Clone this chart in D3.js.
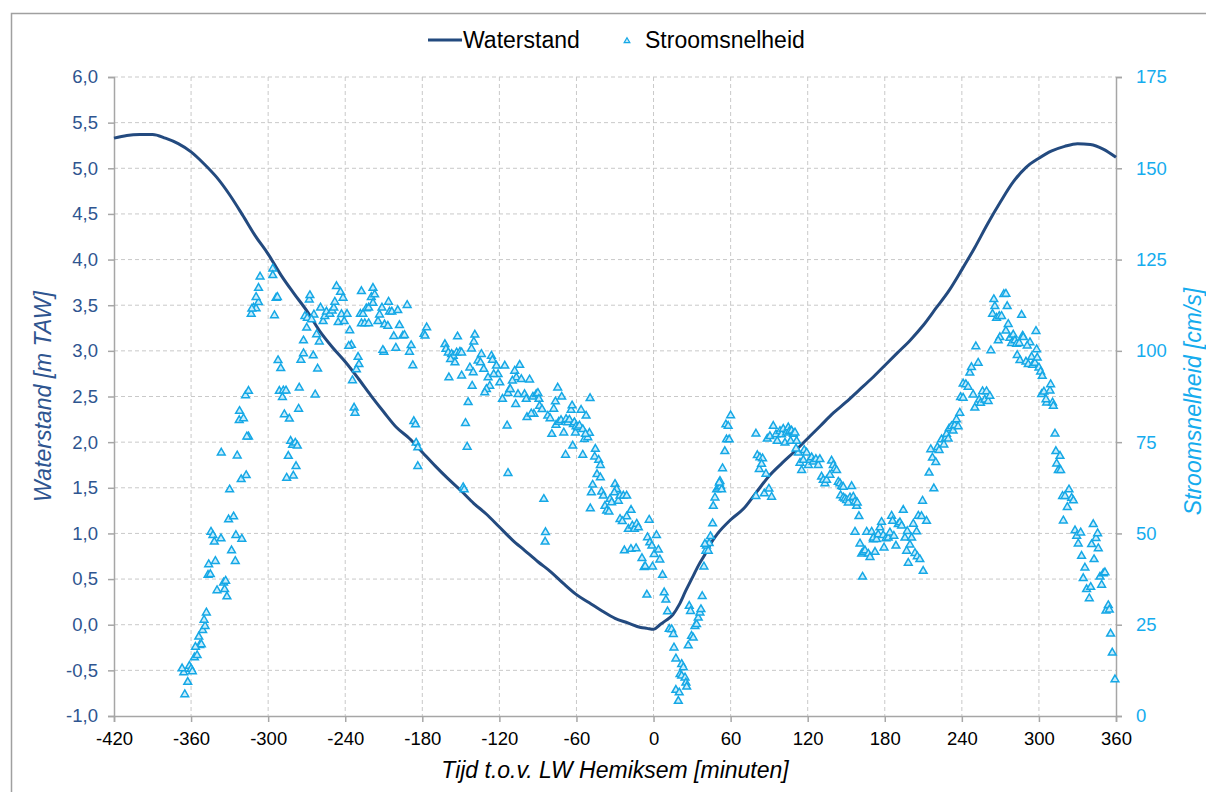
<!DOCTYPE html>
<html><head><meta charset="utf-8">
<script src="https://cdn.jsdelivr.net/npm/d3@7"></script>
<style>body{margin:0;background:#fff;overflow:hidden}svg{display:block;font-family:"Liberation Sans",Arial,sans-serif}</style>
</head><body><svg id="c" width="1206" height="792"></svg>
<script>
const xTicks = [-420,-360,-300,-240,-180,-120,-60,0,60,120,180,240,300,360];
const leftTicks = [-1,-0.5,0,0.5,1,1.5,2,2.5,3,3.5,4,4.5,5,5.5,6];
const rightTicks = [0,25,50,75,100,125,150,175];
const waterTime = [-420,-410,-400,-390,-380,-370,-360,-350,-340,-330,-320,-310,-300,-290,-280,-270,-260,-250,-240,-230,-220,-210,-200,-190,-180,-170,-160,-150,-140,-130,-120,-110,-100,-90,-80,-70,-60,-50,-40,-30,-20,-10,-5,0,5,10,15,20,25,30,35,40,45,50,60,70,80,90,100,110,120,130,140,150,160,170,180,190,200,210,220,230,240,250,260,270,280,290,300,310,320,330,340,350,360];
const waterLevel = [5.33,5.36,5.37,5.37,5.33,5.27,5.18,5.05,4.90,4.71,4.49,4.26,4.06,3.83,3.63,3.44,3.22,3.04,2.88,2.70,2.51,2.33,2.16,2.04,1.89,1.74,1.60,1.47,1.33,1.21,1.07,0.93,0.81,0.69,0.58,0.45,0.33,0.24,0.15,0.07,0.02,-0.03,-0.04,-0.05,0.00,0.05,0.11,0.22,0.37,0.51,0.65,0.77,0.90,1.00,1.15,1.27,1.45,1.63,1.77,1.90,2.04,2.18,2.32,2.44,2.57,2.70,2.84,2.98,3.12,3.28,3.47,3.66,3.89,4.13,4.39,4.63,4.85,5.01,5.11,5.19,5.24,5.27,5.26,5.21,5.12];
const speed = [
[-364.9,5.9],[-365.7,11.9],[-367,13.0],[-361.3,13.7],[-360,12.9],[-359,12.2],[-362.6,9.3],
[-357.4,16],[-355.3,16.6],[-353.3,19.4],[-352,19.6],[-356.6,18.9],[-354,21.7],[-351,23.5],[-349.1,24.6],[-349.9,26.3],[-348.1,28.3],
[-339.8,34.4],[-334.7,36.5],[-333.1,37],[-333.9,34.7],[-332.1,32.7],
[-346.8,38.6],[-345,38.8],[-346.3,41.5],[-341.1,42.4],
[-344.5,50.4],[-343,49.5],[-341.9,47.7],[-336.7,48.6],
[-328.5,45.3],[-325.6,42.4],[-325.1,49.5],[-320.5,48.5],
[-330.8,53.8],[-326.9,54.6],[-330,62],
[-336.5,72.1],[-324.1,71.3],[-321,64.8],[-317.1,65.9],
[-315.3,76.5],[-316.6,76.5],[-322.5,81],[-319.2,81.5],[-322.3,83.5],[-317.6,87.8],[-315.3,89],
[-313.2,110.1],[-311.4,111.8],[-309.4,111.6],[-312.7,111.5],[-307.5,113.3],[-309.4,114.7],[-307.5,117.2],[-306.3,120.3],
[-296.4,122.5],[-296.4,120.7],[-293.8,114.5],[-292.8,114.7],[-295.1,109.7],
[-292.3,97.4],[-290.2,95.2],[-291.3,89],[-288.2,89.1],[-286.1,89.1],[-288.9,87.3],
[-287.4,82.6],[-283.5,81.4],[-282.5,75.3],[-281,74.2],[-278.9,74.8],[-277.3,74],
[-284.3,71.2],[-278.3,68.4],[-285.6,65.2],[-280.4,65.8],
[-275.8,89.9],[-276.3,84.1],[-263.4,88],
[-274.5,97.5],[-272.5,99.3],[-272.5,102.8],[-270,106.3],[-271.4,109.5],[-269.5,109],[-268,114],[-267.5,115.2],
[-264.4,109.9],[-266.2,108.6],[-264.9,98.7],[-261.5,95.1],[-262.3,104.5],[-260.2,102.5],
[-259.2,111.8],[-257.2,108.1],[-255.9,109.5],[-254.6,110.7],[-252,110.1],[-250.2,111],[-248.9,111.8],[-248.1,113.4],[-246.8,117.7],[-243.7,116.1],[-241.7,114.5],
[-245.5,107.8],[-242.9,110],[-240.8,108.1],[-238.6,110.1],[-236.5,105.6],[-235.2,101.6],[-237.3,101.3],
[-234.4,91.9],[-233.1,84.4],[-232.4,83],
[-230,98.3],[-229.3,96.3],[-231.3,94.9],
[-227.4,116.3],[-228.2,110.1],[-226.2,110.1],[-223.6,111.6],[-221.8,111.8],[-219.7,114.7],[-218.4,117.2],[-217.1,115.4],[-218.4,113.1],[-227.4,107.5],[-224.8,107.5],[-221.8,107.5],
[-214.5,108.1],[-213.3,109.9],[-211.4,111.8],[-209.4,107.2],[-206.8,106.8],[-205.5,110.7],[-206.3,113.4],[-203.7,110.7],[-199.1,111.1],[-197.8,107],[-202.2,104],[-200.6,100.8],[-195.2,104.1],[-193.9,104.3],[-191.8,112.5],[-190,99.7],[-188.7,101.5],[-187.4,96],[-209.9,99.7],[-210.7,100.2],
[-186.6,80.7],[-185.3,79.8],[-184.8,74.8],[-183.5,73.5],[-183.5,68.4],
[-178.7,104.6],[-176.6,106.4],[-177.9,104.1],
[-162.4,101.8],[-161.6,100.5],[-159.8,99.5],[-157.2,99.1],[-155.9,98.6],[-158,97.7],[-154.6,96.8],[-153.3,99.5],[-150.7,99.7],[-149.4,99.5],[-159.3,92.7],[-149.4,93.2],
[-152.6,103.9],[-139.1,104.4],[-139.9,102.5],[-141.7,100.6],
[-134,99.1],[-136.6,97.3],[-134.7,96.8],[-132.2,95],[-143,95.4],[-140.4,94.1],[-141.2,90.4],[-144.3,85.9],[-146.4,80.2],[-145.1,73.7],
[-148.2,62.6],[-147.4,62],
[-126.2,98.6],[-125.4,97.5],[-128.8,92.7],[-127.5,90.4],[-130.1,89.5],[-131.4,88.6],[-122.3,95.9],[-121,93.6],[-124.4,93.6],[-119.7,91.3],[-117.6,86.8],[-115.8,95.9],[-113.3,88.4],[-112,89.5],[-114,79.5],[-113.3,66.5],
[-108.1,94.5],[-104.2,96.1],[-106.8,92.7],[-102.9,92.2],[-105.5,88.1],[-107.3,85.4],[-109.9,91.8],[-111.5,89.5],
[-100.4,88.1],[-99.1,86.8],[-98.5,81.8],[-96.5,92.1],[-93.9,87.4],[-91.3,88.1],[-90,88.4],[-89.2,86.8],[-93.1,82.7],[-95.2,82.8],[-88.7,84.9],[-86.8,84],[-85.4,59.4],[-84.1,50.3],[-84.4,47.7],
[-82.3,82.2],[-80.5,81.5],[-79.2,77.2],[-77.7,84.1],[-76.4,86.1],[-75.9,79.7],[-74.6,89.9],[-73.8,80.5],[-71.5,87.4],[-72,81],[-69.9,77.6],[-68.1,81.3],[-66.8,80.4],[-65.5,81.1],[-64.2,83.8],[-63.4,85],[-62.4,79.9],[-61.6,80.4],[-60.3,79.3],[-60.8,77.6],[-59,79],[-57.7,79.5],[-56.4,83.8],[-55.1,78.5],[-53.8,75.8],[-52.5,82.2],[-51.2,76.3],[-49.9,77.5],[-49.4,87],[-53,77.2],
[-62.9,74],[-68.5,71.5],[-55.1,71.5],
[-45.3,73.1],[-45.8,71],[-42.7,70.1],[-41.4,68.7],[-44,66.2],[-41.4,65.3],[-47.4,63.3],[-48.4,61.2],[-49.2,56.8],[-40.4,61.4],[-39.1,60.3],[-37.8,57.5],[-36.5,56.2],[-34.7,55.9],[-33.9,59.4],[-32.6,58.5],[-30,63.5],[-28.7,62.1],[-27.4,58.9],[-30.5,61.2],[-26.1,60.3],[-23.5,60.3],[-20.9,60.3],[-17.5,56.4],[-20.9,54.6],[-26.1,53.9],[-24.3,53.3],
[-19.6,51.2],[-16.5,52.1],[-14.9,51.2],[-13.1,52.6],[-11.8,51.6],[-22.7,45.3],[-17.6,45.7],[-13.6,45.9],[-9,43.2],[-7.3,40.7],[-6.5,41],[-3.4,53.7],[-4.7,48.9],[-2.9,47.5],[-1.3,46.6],[0.5,44.3],[-0.8,40.9],[2.3,49.5],[3.8,45.5],[4.9,42.8],[7,38.6],[8.3,33.8],[9.6,31.8],[-5.2,33.2],[10.9,28.6],[12.2,23.8],
[14.1,23.7],[15.4,22.4],[15.9,18.7],[17.4,15.7],[21.9,14.2],[23.2,13.3],[20.6,11.4],[21.9,11],[24.5,10.5],[25.2,9.1],[25.8,8],[17.4,7.1],[20,6.4],[19.3,4.1],
[27,19.3],[29.6,21.9],[30.9,21.4],[32.2,24.6],[33.5,25.1],[34.8,26.9],[36.1,28.3],[36.9,29.2],[37.9,32.8],[27.8,30.1],[28.8,28.7],
[39.2,40.9],[40.7,45.2],[41.2,46.6],[43.3,47.3],[44.3,49.2],[40,47.1],[42.6,45.2],[46,52.7],[46.5,57.5],[47.8,59.8],[49.1,62],[50.4,62.5],[51.7,64.3],[52.2,62.9],[53.7,67.8],[55.5,72.5],[56.8,75.7],[56.3,79.8],[58.1,79.4],[58.9,75.7],[60,82.3],[53,62],[51.2,63.9],
[79.7,77.3],[80.8,71.4],[82.8,70.8],[84.9,70.5],[82.3,67.6],[84.1,69],[87.5,66.3],[79.7,60.2],[86.2,60.9],[89.8,62.2],[91.9,60],[88.5,75.9],[90.6,76.6],[93.2,79.4],[95.3,77.1],[96.3,75.3],[98.4,78],[99.7,77.1],[101,78.6],[102.3,74.8],[103.6,77.6],[104.9,79],[105.7,77.9],[107.5,78.1],[108.8,77.2],[110.1,77.6],[106.7,75.3],[111.4,75.3],[112.7,72.1],[110.9,73.2],
[114,69.3],[115.3,67.3],[117.3,72.8],[119.2,72.1],[116.6,70.1],[120.5,68.7],[121.8,70.1],[123.1,70.8],[124.3,69.6],[126.4,70.3],[128.2,68.7],[129.5,70.3],[130.8,65.5],[132.1,64.6],[133.4,63.7],[134.7,64.6],[137.3,66],[138.6,69.9],[139.9,68.7],[141.2,67.8],[142.5,67.3],[143.8,64.1],[145.1,63.7],[146.4,62.9],[147.7,62.7],[145.6,60.4],[147.7,59.8],[149,59.5],[150.3,59.1],[151.6,58.4],[152.9,59.8],[154.2,62.9],[155.5,60],[156.8,58.7],[158.1,57.5],[158.6,58.4],[159.9,54.7],[156.8,50.4],[160.7,47.2],[162,44.4],[163.3,44.9],[164.6,45.3],[165.9,50.4],[167.2,44.4],[168.5,43.5],[169.8,50.4],[171.1,48.3],[172.4,44.9],[162.7,38.1],
[171.1,48.8],[173.6,48.4],[174.9,49.7],[176.2,51.6],[177.5,53.1],[178.8,49.5],[179.4,46.1],[180.9,48.6],[182.7,48.8],[184,50.2],[185.3,54.8],[186.1,53.4],[187.1,49.3],[188.7,46.6],[190.5,52.5],[191.8,53],[193.1,52.1],[194.4,56.4],[195.7,48.8],[197.5,50.6],[197,45.2],[198.3,41.9],[199.6,46.9],[200.9,48.8],[202.2,52.6],[203.5,44.6],[204.8,50.5],[206.1,54.8],[205.3,43.7],
[209.4,58.9],[208.6,54.7],[212.5,53.4],[209.9,39.7],[207.3,42.9],
[214.5,66.6],[215.8,73],[217.1,70.7],[219.7,69.5],[218.2,62.3],[221,73.6],[222.3,72.8],[224.2,75.7],[226,74.3],[227.5,76.1],[228.1,77.2],[229.4,75.9],[230.1,78.7],[231.9,79.3],[233.2,78.1],[234.5,79.6],[235.8,81.2],[237.1,79.3],[238.4,83],
[239,87.3],[241,87.1],[241,91],[243.1,90.8],[244.9,90.1],[246.2,94],[247.5,95.5],[248.8,88],[250.1,84.4],[252.7,96.7],[250.9,101.2],[253.5,86.6],[254.5,85.7],[256.1,88.9],[257.9,86.6],[259.2,88.9],[260.5,86.2],[261.8,87.6],[262.6,100.1],
[263.9,110.1],[265.7,112.2],[264.9,114.1],[267,109],[269.1,109.5],[270.9,109.5],[272.7,115.5],[274.3,115.6],[275.3,112.2],[274.3,105.5],[276.1,107.3],[269.6,103.7],[268.3,102.8],[277.4,103.5],[278.7,102.1],[280,104.4],[281.3,102.8],[282.6,101.9],[284.7,102.1],[283.1,98.8],[285.2,97.4],[286.5,109.8],[287.3,104.1],[287.8,103.7],[289.9,97],[291.7,96.3],[293,102.3],[290.9,101.4],[294.3,98.3],[295.1,96.1],[296.9,96.7],[297.7,105.4],[298.2,100.4],[298.7,98.1],[300,95.4],[301.3,94.3],[302.6,93.1],
[302.1,88.1],[303.9,88.8],[306,85.8],[308.6,89.1],[309.1,90.8],[310.6,85.8],[311.2,84.9],[305.5,86.7],
[312.5,77.3],[313.2,72.5],[316.4,71.2],[313.8,69.1],[315.1,67.3],[316.9,67.3],[318.4,60.2],[320.3,60.2],[323.4,62],[325.5,59.7],[326.8,59],[322.1,57.2],[319,53.5],
[328.1,50.8],[329.4,49.3],[330.6,47.2],[332.5,50.2],[333.2,43.8],[335.8,40.6],[334.5,37.7],[337.1,34.7],[339.2,32.2],[340.3,35.3],[341,47],[342.3,52.5],[344.4,48.7],[345.7,50],[346.2,45.9],[342.9,42.9],[347.5,38.1],[348.8,35.9],[350.1,39],[351.4,39.3],[352.2,28.8],[354,30.3],[354.8,29.1],
[355.8,22.5],[357.1,17.3],[359.2,10]
];
const seriesNames = ["Waterstand","Stroomsnelheid"];

const svg = d3.select("#c");
const L=114, R=1116, T=77, B=716;
const lineColor="#234a7f", speedColor="#15a8e6", gridColor="#c9c9c9", axisColor="#a6a6a6";
const x = d3.scaleLinear().domain([-420,360]).range([L,R]);
const yL = d3.scaleLinear().domain([-1,6]).range([B,T]);
const yR = d3.scaleLinear().domain([0,175]).range([B,T]);

svg.append("path").attr("d","M11.5,800 L11.5,13.5 L1206,13.5")
  .attr("fill","none").attr("stroke","#a0a0a0").attr("stroke-width",1.5);

// gridlines
const g = svg.append("g");
g.selectAll("line.h").data(leftTicks.filter(d=>d>-1)).join("line")
  .attr("x1",L).attr("x2",R).attr("y1",d=>yL(d)).attr("y2",d=>yL(d))
  .attr("stroke",gridColor).attr("stroke-dasharray","4,3").attr("stroke-width",1);
g.selectAll("line.v").data(xTicks.filter(d=>d>-420&&d<360)).join("line")
  .attr("y1",T).attr("y2",B).attr("x1",d=>x(d)).attr("x2",d=>x(d))
  .attr("stroke",gridColor).attr("stroke-dasharray","4,3").attr("stroke-width",1);

// axes
const fmt = d=>d3.format(".1f")(d).replace(".",",").replace("−","-");
const ax = svg.append("g").attr("transform",`translate(0,${B})`)
  .call(d3.axisBottom(x).tickValues(xTicks).tickSize(6).tickPadding(10).tickFormat(d=>String(d)));
const al = svg.append("g").attr("transform",`translate(${L},0)`)
  .call(d3.axisLeft(yL).tickValues(leftTicks).tickSize(6).tickPadding(10).tickFormat(fmt));
const ar = svg.append("g").attr("transform",`translate(${R},0)`)
  .call(d3.axisRight(yR).tickValues(rightTicks).tickSize(6).tickPadding(14).tickFormat(d=>String(d)));
[ax,al,ar].forEach(a=>{
  a.select(".domain").attr("stroke",axisColor).attr("stroke-width",1.5);
  a.selectAll(".tick line").attr("stroke",axisColor).attr("stroke-width",1.5);
  a.selectAll("text").attr("font-family","Liberation Sans, Arial, sans-serif").attr("font-size",18.5);
});
ax.selectAll("text").attr("fill","#000");
al.selectAll("text").attr("fill","#2e5590");
ar.selectAll("text").attr("fill","#15acee");

// line
const line = d3.line().x((d,i)=>x(waterTime[i])).y(d=>yL(d)).curve(d3.curveMonotoneX);
svg.append("path").datum(waterLevel).attr("d",line).attr("fill","none")
  .attr("stroke",lineColor).attr("stroke-width",3);

// scatter
const tri = d3.symbol().type(d3.symbolTriangle).size(26);
svg.append("g").selectAll("path").data(speed).join("path")
  .attr("d",tri).attr("transform",d=>`translate(${x(d[0])},${yR(d[1])})`)
  .attr("fill","#c8ecfb").attr("stroke",speedColor).attr("stroke-width",1.5);

// titles
svg.append("text").attr("x",615).attr("y",778).attr("text-anchor","middle")
  .attr("font-size",23).attr("font-style","italic").attr("fill","#000")
  .text("Tijd t.o.v. LW Hemiksem [minuten]");
svg.append("text").attr("transform",`translate(51,${(T+B)/2}) rotate(-90)`).attr("text-anchor","middle")
  .attr("font-size",23).attr("font-style","italic").attr("fill","#2e5590")
  .text("Waterstand [m TAW]");
svg.append("text").attr("transform",`translate(1201,${(T+B)/2+5}) rotate(-90)`).attr("text-anchor","middle")
  .attr("font-size",23).attr("font-style","italic").attr("fill","#15acee")
  .text("Stroomsnelheid [cm/s]");

// legend
const lg = svg.append("g");
lg.append("line").attr("x1",428).attr("x2",462).attr("y1",40).attr("y2",40).attr("stroke",lineColor).attr("stroke-width",3);
lg.append("text").attr("x",463).attr("y",48).attr("font-size",23).attr("fill","#000").text(seriesNames[0]);
lg.append("path").attr("d",d3.symbol().type(d3.symbolTriangle).size(14)).attr("transform","translate(627,41)")
  .attr("fill","#c8ecfb").attr("stroke",speedColor).attr("stroke-width",1.2);
lg.append("text").attr("x",645).attr("y",48).attr("font-size",23).attr("fill","#000").text(seriesNames[1]);
</script></body></html>
